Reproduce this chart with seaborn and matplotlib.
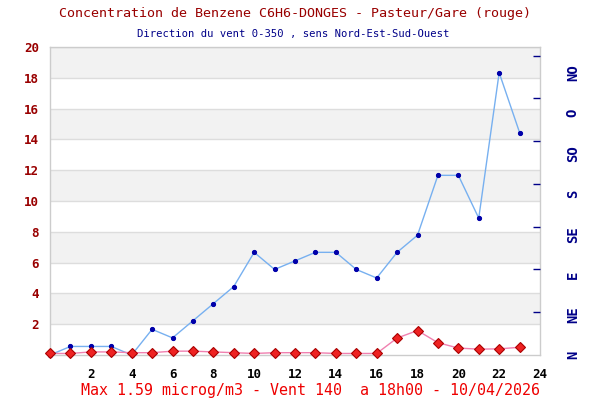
import pandas as pd
import matplotlib
matplotlib.use("Agg")
import matplotlib.pyplot as plt
import seaborn as sns

# Hourly values (hour 0..23)
hours = list(range(24))
benzene = [0.1, 0.1, 0.2, 0.2, 0.15, 0.15, 0.25, 0.25, 0.2, 0.15, 0.1, 0.15,
           0.15, 0.15, 0.1, 0.1, 0.1, 1.1, 1.59, 0.8, 0.45, 0.38, 0.4, 0.5]
wind_dir = [0, 10, 10, 10, 0, 30, 20, 40, 60, 80, 120, 100,
            110, 120, 120, 100, 90, 120, 140, 210, 210, 160, 330, 260]
dir_labels = ["N", "NE", "E", "SE", "S", "SO", "O", "NO"]
x_ticks = list(range(2, 25, 2))
y_ticks = list(range(2, 21, 2))

title = "Concentration de Benzene C6H6-DONGES - Pasteur/Gare (rouge)"
subtitle = "Direction du vent 0-350 , sens Nord-Est-Sud-Ouest"
footer = "Max 1.59 microg/m3 - Vent 140  a 18h00 - 10/04/2026"

df = pd.DataFrame({"heure": hours, "benzene": benzene, "vent": wind_dir})

sns.set_theme(style="white")
plt.rcParams["font.family"] = ["DejaVu Sans Mono", "DejaVu Sans"]

fig = plt.figure(figsize=(6, 4), dpi=100)
ax = fig.add_axes([50 / 600, 45 / 400, 490 / 600, 308 / 400])

# alternating background bands + grid
for lo in range(2, 20, 4):
    ax.axhspan(lo, lo + 2, color="#f2f2f2", zorder=0, lw=0)
for y in y_ticks:
    ax.axhline(y, color="#dddddd", lw=1, zorder=0.5)

ax.set_xlim(0, 24)
ax.set_ylim(0, 20)
ax.set_xticks(x_ticks)
ax.set_yticks(y_ticks)
ax.tick_params(axis="y", length=0, pad=8, labelsize=9, labelcolor="#990000")
ax.tick_params(axis="x", length=0, pad=9, labelsize=9, labelcolor="black")
for lab in ax.get_xticklabels() + ax.get_yticklabels():
    lab.set_fontweight("bold")
for sp in ax.spines.values():
    sp.set_color("#cccccc")
    sp.set_linewidth(1)
ax.set_xlabel("")
ax.set_ylabel("")

# wind direction on a secondary scale
ax2 = ax.twinx()
sns.lineplot(data=df, x="heure", y="vent", ax=ax2, color="#77b0f0", lw=1,
             marker="o", markersize=3, markerfacecolor="#0000aa",
             markeredgecolor="#0000aa", clip_on=False)
ax2.set_ylim(0, 360)
ax2.set_yticks(range(50, 360, 50))
ax2.set_yticklabels([])
ax2.tick_params(axis="y", direction="in", length=5, width=1, color="#000088", right=True)
ax2.set_ylabel("")
for sp in ax2.spines.values():
    sp.set_visible(False)
for i, lab in enumerate(dir_labels):
    ax2.text(1.067, i * 45 / 344, lab, transform=ax2.transAxes, rotation=90,
             ha="center", va="center", color="#000088", fontsize=10, fontweight="bold")

# benzene on top
ax3 = ax.twinx()
ax3.set_ylim(0, 20)
sns.lineplot(data=df, x="heure", y="benzene", ax=ax3, color="#f080b0", lw=1,
             marker="D", markersize=5, markerfacecolor="#ee2222",
             markeredgecolor="#aa0000", markeredgewidth=0.8, clip_on=False)
ax3.set_xlim(0, 24)
ax3.set_ylim(0, 20)
ax3.axis("off")

fig.text(0.492, 0.965, title, ha="center", va="center", color="#990000", fontsize=9.6)
fig.text(0.489, 0.915, subtitle, ha="center", va="center", color="#000088", fontsize=7.6)
fig.text(0.517, 0.025, footer, ha="center", va="center", color="#ee0000", fontsize=10.8)

fig.savefig("out.png", dpi=100)
